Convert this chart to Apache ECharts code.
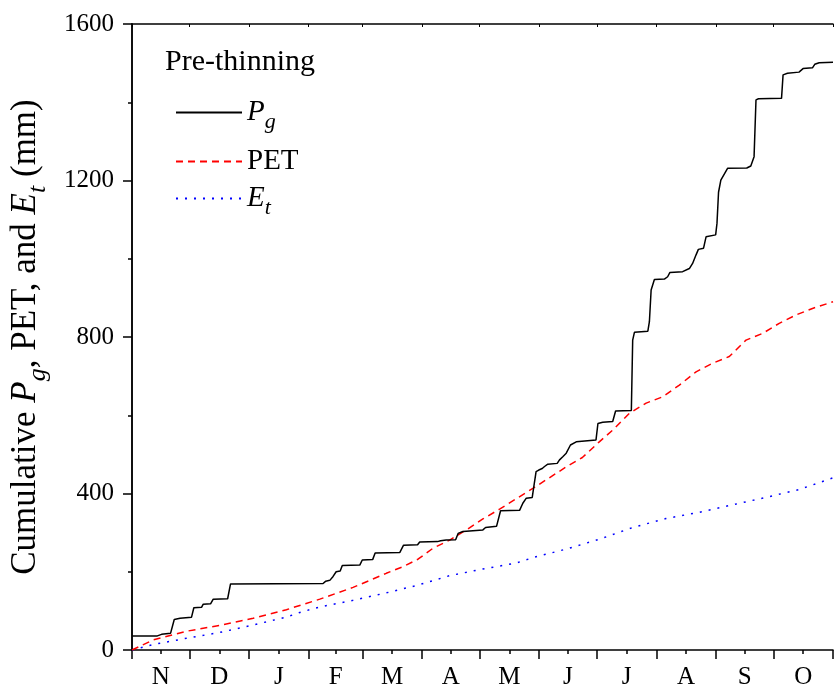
<!DOCTYPE html>
<html>
<head>
<meta charset="utf-8">
<script src="https://cdn.jsdelivr.net/npm/echarts@6/dist/echarts.min.js"></script>
<style>
  html, body { margin: 0; padding: 0; background: #fff; }
  #chart { width: 835px; height: 690px; }
</style>
</head>
<body>
<div id="chart"></div>
<script>
// Hydrological year, November to October (day 0 = 1 Nov)
const monthLabels = ['N', 'D', 'J', 'F', 'M', 'A', 'M', 'J', 'J', 'A', 'S', 'O'];
const monthDays = [30, 31, 31, 28, 31, 30, 31, 30, 31, 31, 30, 31];

// Cumulative gross precipitation (mm)
const pgDays = [0, 13.2, 15.4, 16.3, 20.1, 22.0, 25.0, 31.0, 32.2, 36.2, 37.1, 40.9, 42.3, 49.8, 51.3,
  99.5, 100.9, 103.0, 104.7, 106.3, 108.4, 109.5, 118.6, 119.9, 125.3, 126.6, 139.4, 141.4, 148.7, 149.8,
  159.1, 160.7, 163.6, 168.5, 169.8, 172.3, 182.7, 184.1, 189.8, 191.9, 201.8, 203.5, 205.3, 208.4, 209.2,
  210.4, 211.8, 213.6, 214.8, 216.5, 221.4, 222.6, 224.3, 226.1, 228.3, 231.3, 241.6, 242.6, 245.1, 250.3,
  251.8, 260.0, 260.7, 261.6, 268.6, 269.4, 270.3, 272.0, 277.2, 278.9, 280.1, 286.7, 290.2, 291.9, 293.7,
  294.9, 297.6, 298.9, 303.9, 304.6, 305.4, 306.6, 310.1, 320.1, 322.2, 323.9, 324.9, 326.2, 338.2, 339.0,
  341.3, 347.3, 349.4, 354.3, 355.5, 357.8, 365];
const pgValues = [36, 36, 40, 42, 43, 78, 81, 84, 108, 109, 117, 118, 130, 131, 169,
  170, 176, 178, 188, 200, 202, 216, 217, 230, 231, 248, 249, 268, 269, 276,
  277, 279, 281, 282, 298, 303, 307, 313, 316, 356, 357, 375, 388, 390, 417,
  456, 460, 464, 469, 475, 477, 486, 494, 503, 524, 532, 537, 579, 582, 584,
  611, 612, 792, 812, 815, 839, 920, 947, 948, 954, 965, 967, 975, 988, 1010,
  1024, 1027, 1056, 1061, 1091, 1170, 1201, 1231, 1232, 1237, 1261, 1406, 1409, 1410, 1470,
  1474, 1477, 1486, 1488, 1497, 1501, 1502];

// Cumulative potential evapotranspiration (mm)
const petDays = [0, 11.1, 28.4, 45.8, 63.1, 80.4, 97.8, 115.1, 123.8, 132.4, 141.1, 148.9, 156.7, 165.4, 174.1,
  182.7, 191.4, 208.7, 226.1, 234.5, 243.3, 250.3, 259.0, 267.7, 276.3, 285.0, 293.7, 302.3, 311.0, 319.7,
  328.3, 337.0, 345.6, 354.3, 365];
const petValues = [0, 26, 48, 63, 81, 103, 130, 160, 178, 196, 213, 232, 260, 281, 307,
  335, 360, 413, 468, 492, 532, 562, 605, 631, 647, 677, 711, 733, 750, 792,
  809, 835, 856, 873, 890];

// Cumulative transpiration (mm)
const etDays = [0, 11.1, 28.4, 45.8, 63.1, 80.4, 87.4, 97.8, 115.1, 132.4, 149, 165.4, 182.7, 199.8, 208.7, 226.1,
  243.3, 260.7, 278, 295.4, 312.7, 330, 347.3, 365];
const etValues = [0, 14, 30, 45, 64, 84, 96, 110, 127, 146, 166, 190, 207, 222, 236, 258,
  283, 313, 336, 352, 371, 390, 410, 440];

const FONT = 'Liberation Serif';

// month boundaries (major ticks) and month centres (labels, minor ticks)
const monthStarts = [0];
monthDays.forEach(d => monthStarts.push(monthStarts[monthStarts.length - 1] + d));
const monthMids = monthDays.map((d, i) => monthStarts[i] + d / 2);

const pairs = (xs, ys) => xs.map((x, i) => [x, ys[i]]);

const subRich = size => ({
  i: { fontFamily: FONT, fontStyle: 'italic', fontSize: size, color: '#000' },
  s: { fontFamily: FONT, fontStyle: 'italic', fontSize: Math.round(size * 0.75), color: '#000',
       padding: [Math.round(size * 0.7), 0, 0, 0] }
});

const black = { color: '#000', width: 1.5 };
const legendBase = {
  left: 170, itemWidth: 66, itemHeight: 14,
  itemStyle: { opacity: 0 },
  textStyle: { fontFamily: FONT, fontSize: 29, color: '#000', rich: subRich(29) }
};

const chart = echarts.init(document.getElementById('chart'), null, { renderer: 'canvas' });
chart.setOption({
  animation: false,
  backgroundColor: '#fff',
  grid: { left: 132, right: 2, top: 24, bottom: 40, containLabel: false, outerBoundsMode: 'none' },
  title: {
    text: 'Pre-thinning', left: 160, top: 42,
    textStyle: { fontFamily: FONT, fontSize: 30, fontWeight: 'normal', color: '#000' }
  },
  legend: [
    Object.assign({ data: ['Pg'], top: 93, formatter: () => '{i|P}{s|g}' }, legendBase),
    Object.assign({ data: ['PET'], top: 142 }, legendBase),
    Object.assign({ data: ['Et'], top: 179, formatter: () => '{i|E}{s|t}' }, legendBase)
  ],
  xAxis: [
    {
      type: 'value', min: 0, max: 365, position: 'bottom',
      axisLine: { show: true, lineStyle: black },
      splitLine: { show: false },
      axisTick: { show: true, customValues: monthStarts, length: 9, lineStyle: black },
      axisLabel: {
        show: true, customValues: monthMids, margin: 15,
        fontFamily: FONT, fontSize: 25, color: '#000',
        formatter: v => monthLabels[monthMids.indexOf(v)] || ''
      }
    },
    {
      type: 'value', min: 0, max: 365, position: 'bottom',
      axisLine: { show: false }, splitLine: { show: false },
      axisTick: { show: true, customValues: monthMids, length: 4, lineStyle: black },
      axisLabel: { show: false }
    },
    {
      type: 'value', min: 0, max: 365, position: 'top',
      axisLine: { show: true, lineStyle: black }, splitLine: { show: false },
      axisTick: { show: true, inside: true, customValues: monthStarts, length: 3, lineStyle: { color: '#000', width: 1 } },
      axisLabel: { show: false }
    }
  ],
  yAxis: [
    {
      type: 'value', min: 0, max: 1600, interval: 400, position: 'left',
      axisLine: { show: true, lineStyle: black },
      splitLine: { show: false },
      axisTick: { show: true, length: 9, lineStyle: black },
      minorTick: { show: true, splitNumber: 2, length: 4, lineStyle: black },
      minorSplitLine: { show: false },
      axisLabel: { margin: 18, fontFamily: FONT, fontSize: 25, color: '#000', formatter: v => String(v) },
      name: 'Cumulative {i|P}{s|g}, PET, and {i|E}{s|t} (mm)',
      nameLocation: 'middle', nameRotate: 90, nameGap: 81,
      nameTextStyle: { fontFamily: FONT, fontSize: 35, color: '#000', rich: subRich(35) }
    },
    {
      type: 'value', min: 0, max: 1600, position: 'right',
      axisLine: { show: true, lineStyle: black },
      splitLine: { show: false }, axisTick: { show: false }, axisLabel: { show: false }
    }
  ],
  series: [
    { name: 'Pg', type: 'line', xAxisIndex: 0, yAxisIndex: 0, symbol: 'none', showSymbol: false,
      lineStyle: { color: '#000', width: 1.5, type: 'solid' }, itemStyle: { color: '#000' },
      data: pairs(pgDays, pgValues), z: 4 },
    { name: 'PET', type: 'line', xAxisIndex: 0, yAxisIndex: 0, symbol: 'none', showSymbol: false,
      lineStyle: { color: '#ff0000', width: 1.5, type: [7, 5] }, itemStyle: { color: '#ff0000' },
      data: pairs(petDays, petValues), z: 3 },
    { name: 'Et', type: 'line', xAxisIndex: 0, yAxisIndex: 0, symbol: 'none', showSymbol: false,
      lineStyle: { color: '#0000ff', width: 1.5, type: [2, 7] }, itemStyle: { color: '#0000ff' },
      data: pairs(etDays, etValues), z: 2 }
  ]
});
</script>
</body>
</html>
